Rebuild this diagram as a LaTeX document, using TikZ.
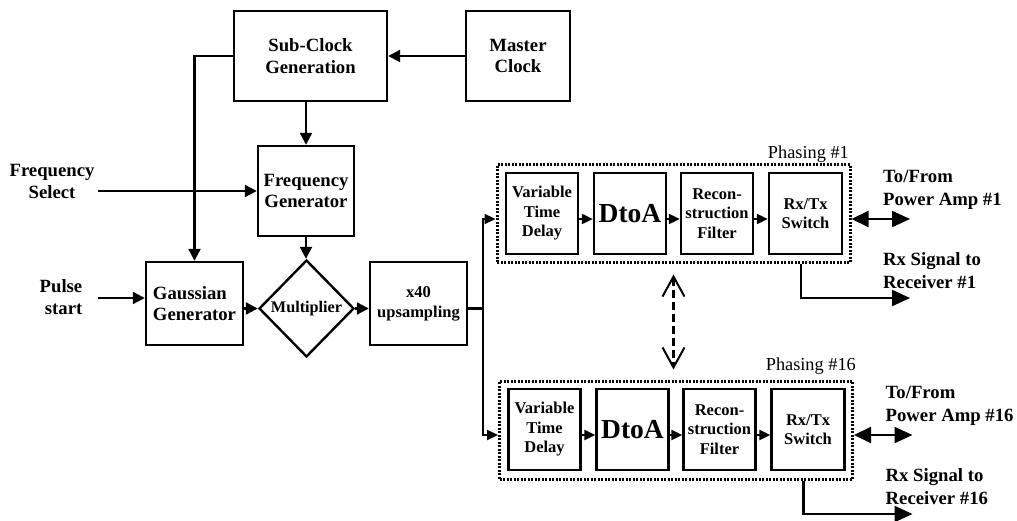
\documentclass[tikz,border=0pt]{standalone}
\usepackage{fontspec}
\setmainfont{Liberation Serif}
\usetikzlibrary{arrows.meta,shapes.geometric,calc}
\begin{document}
\begin{tikzpicture}[x=1pt,y=-1pt,
  box/.style={draw, line width=2.4pt, inner sep=0pt, align=center, font=\fontsize{18.7}{21.5}\selectfont\bfseries},
  ibox/.style={draw, line width=2.4pt, inner sep=0pt, minimum width=72pt, minimum height=81pt, align=center, font=\fontsize{16.5}{19.5}\selectfont\bfseries},
  phase/.style={draw, line width=3pt, dash pattern=on 2pt off 1.5pt, minimum width=353pt, minimum height=98pt, inner sep=0pt},
  lbl/.style={inner sep=0pt, align=center, font=\fontsize{18.7}{22}\selectfont\bfseries},
  rlbl/.style={inner sep=0pt, align=left, anchor=west, font=\fontsize{18.7}{23}\selectfont\bfseries},
  plbl/.style={inner sep=0pt, anchor=east, font=\fontsize{18.3}{22}\selectfont},
  conn/.style={line width=2.2pt, -{Triangle[length=12pt,width=12pt]}},
  iconn/.style={line width=2.2pt, -{Triangle[length=11pt,width=10pt]}},
  bconn/.style={line width=2.2pt, -{Triangle[length=18pt,width=16pt]}},
  dbl/.style={line width=2.2pt, {Triangle[length=17pt,width=16pt]}-{Triangle[length=18pt,width=16pt]}},
  vlink/.style={line width=2.6pt, dash pattern=on 8pt off 4pt,
    {Straight Barb[length=20pt,width=22pt,line width=2pt]}-{Straight Barb[length=20pt,width=22pt,line width=2pt]},
    shorten <=10pt, shorten >=10pt}
]
\useasboundingbox (0,0) rectangle (1017,521);

% left part
\node[box, minimum width=153pt, minimum height=90pt] (sub) at (310.5,56) {Sub-Clock\\Generation};
\node[box, minimum width=104pt, minimum height=90pt] (mas) at (518,56) {Master\\Clock};
\node[box, minimum width=96pt, minimum height=90pt] (fg) at (306,191) {Frequency\\Generator};
\node[box, minimum width=97pt, minimum height=83pt, align=left] (gau) at (194.5,303.5) {Gaussian\\Generator};
\node[draw, diamond, line width=2.4pt, minimum width=95pt, minimum height=97pt, inner sep=0pt,
  font=\fontsize{16.2}{19}\selectfont\bfseries] (mul) at (306.5,308.5) {Multiplier};
\node[box, minimum width=97pt, minimum height=83pt, font=\fontsize{16.5}{20}\selectfont\bfseries] (ups) at (418.5,303.5) {x40\\upsampling};

\node[lbl] (fsel) at (52,181) {Frequency\\Select};
\node[lbl, align=right] (pst) at (61,297.5) {Pulse\\start};
\coordinate (fin) at (98,191);
\coordinate (pin) at (98,298);

\draw[conn] (mas.west) -- (sub.east);
\draw[conn] (sub.west) -| (gau.north);
\draw[conn] (sub.south -| fg.north) -- (fg.north);
\draw[conn] (fin) -- (fin -| fg.west);
\draw[conn] (fg.south) -- (fg.south |- mul.north);
\draw[conn] (pin) -- (pin -| gau.west);
\draw[conn] (gau.east |- mul.west) -- (mul.west);
\draw[conn] (mul.east) -- (mul.east -| ups.west);
\coordinate (split) at (483,308.5);
\draw[line width=2.2pt] (ups.east |- split) -- (split);

% phasing blocks
\foreach \n/\dx/\dy/\px/\py in {1/0/0/849/154, 16/2.5/216/856/366} {
  \begin{scope}[shift={(\dx,\dy)}]
    \node[phase] (ph\n) at (673.5,214) {};
    \node[ibox] (vtd\n) at (542,213.5) {Variable\\Time\\Delay};
    \node[ibox, font=\fontsize{27.5}{30}\selectfont\bfseries] (dta\n) at (630,213.5) {DtoA};
    \node[ibox] (rec\n) at (717,213.5) {Recon-\\struction\\Filter};
    \node[ibox, minimum width=73pt] (rxt\n) at (805.5,213.5) {Rx/Tx\\Switch};
    \coordinate (row\n) at (0,219);
    \coordinate (amp\n) at (910,219);
    \coordinate (rxo\n) at (801,298);
    \coordinate (rxe\n) at (910,298);
    \draw[iconn] (vtd\n.east |- row\n) -- (dta\n.west |- row\n);
    \draw[iconn] (dta\n.east |- row\n) -- (rec\n.west |- row\n);
    \draw[iconn] (rec\n.east |- row\n) -- (rxt\n.west |- row\n);
    \draw[dbl] (ph\n.east |- row\n) -- (amp\n);
    \draw[bconn] (ph\n.south -| rxo\n) -- (rxo\n) -- (rxe\n);
    \node[rlbl] (tf\n) at (883,190) {To/From\\Power Amp \#\n};
    \node[rlbl] (rs\n) at (883,270.5) {Rx Signal to\\Receiver \#\n};
  \end{scope}
  \node[plbl] (pl\n) at (\px,\py) {Phasing \#\n};
  \draw[iconn] (split) |- (ph\n.west |- row\n);
}

\draw[vlink] (ph1.south) -- (ph1.south |- ph16.north);
\end{tikzpicture}
\end{document}
